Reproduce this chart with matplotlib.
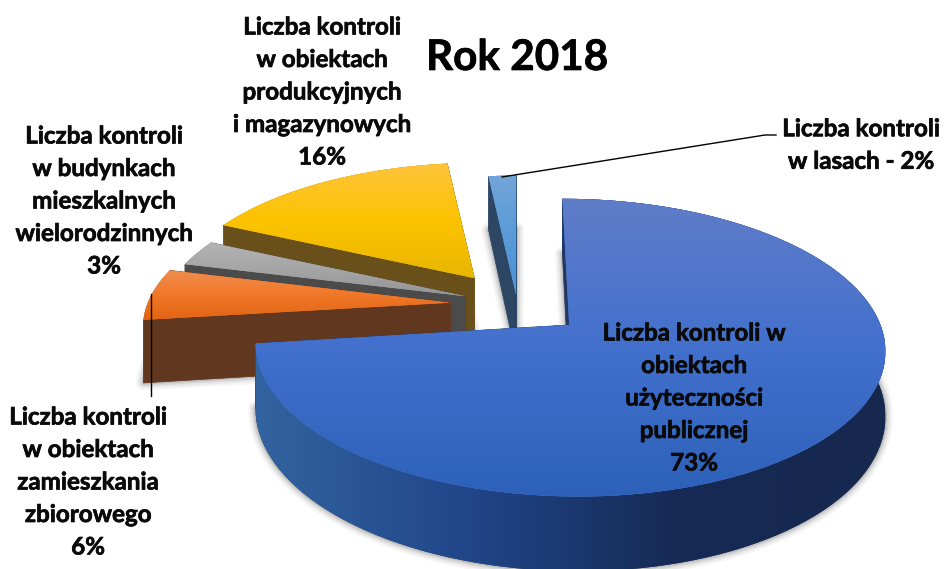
import matplotlib
matplotlib.use('Agg')
import matplotlib.pyplot as plt
import matplotlib.patheffects as pe
from matplotlib.patches import Polygon
from matplotlib.colors import LinearSegmentedColormap
import numpy as np

"""
Exploded 3D pie, Rok 2018
"""

title = 'Rok 2018'
shares = [73, 6, 3, 16, 2]
labels = [
    'Liczba kontroli w\nobiektach\nużyteczności\npublicznej\n73%',
    'Liczba kontroli\nw obiektach\nzamieszkania\nzbiorowego\n6%',
    'Liczba kontroli\nw budynkach\nmieszkalnych\nwielorodzinnych\n3%',
    'Liczba kontroli\nw obiektach\nprodukcyjnych\ni magazynowych\n16%',
    'Liczba kontroli\nw lasach - 2%',
]

# slice styling, same order as shares
explode = [0.215, 0.215, 0.178, 0.24, 0.07]
radius_u = [0.97, 0.965, 0.97, 0.975, 0.82]
radius_v = [0.995, 0.965, 0.97, 1.0, 1.0]
top_colors = [
    ['#5f7dc8', '#4270cd', '#2d61b9'],
    ['#f08c50', '#f07828', '#e16414'],
    ['#b4b4b4', '#a5a5a5', '#959595'],
    ['#ffc33c', '#fdc300', '#e8b600'],
    ['#73a5d7', '#5a9ad8', '#4a94d6'],
]
wall_colors = ['#233763', '#623720', '#4b4b4b', '#69501a', '#2d4664']
main_wall_colors = ['#32649f', '#21468a', '#162a55', '#16284e']
label_pos = [(694, 398), (88, 482), (104, 201), (322, 92), (861, 145)]
draw_order = [4, 3, 2, 1, 0]

# projection of the pie plane onto the picture
X0, Y0, A, B, K, DEPTH = 517.5, 304.6, 314, 140, 0.15, 62


def project(u, v):
    w = 1 + K * v
    return X0 + A * u / w, Y0 - B * v / w, DEPTH / w


def slice_outline(t1, t2, ru, rv, off):
    ang = np.linspace(t1, t2, 120)
    return off[0] + ru * np.sin(ang), off[1] + rv * np.cos(ang)


def gradient(ax, patch, colors, horizontal=False):
    x0, y0, x1, y1 = patch.get_extents().transformed(ax.transData.inverted()).extents
    cmap = LinearSegmentedColormap.from_list('g', colors)
    grad = np.linspace(0, 1, 256).reshape(1, -1) if horizontal else np.linspace(0, 1, 256).reshape(-1, 1)
    lo_y, hi_y = min(y0, y1), max(y0, y1)
    im = ax.imshow(grad, cmap=cmap, extent=(x0, x1, hi_y, lo_y), aspect='auto',
                   zorder=patch.get_zorder(), interpolation='bilinear')
    im.set_clip_path(patch)


fig = plt.figure(figsize=(9.44, 5.69), dpi=100)
ax = fig.add_axes([0, 0, 1, 1])
ax.set_xlim(0, 944)
ax.set_ylim(569, 0)
ax.axis('off')

fractions = np.array(shares) / sum(shares)
ends = np.cumsum(fractions) * 2 * np.pi
starts = ends - fractions * 2 * np.pi

z = 1
for i in draw_order:
    mid = (starts[i] + ends[i]) / 2
    off = (explode[i] * np.sin(mid), explode[i] * np.cos(mid))
    us, vs = slice_outline(starts[i], ends[i], radius_u[i], radius_v[i], off)
    u = np.concatenate([[off[0]], us])
    v = np.concatenate([[off[1]], vs])
    x, y, d = project(u, v)
    pts = np.column_stack([x, y])
    low = np.column_stack([x, y + d])

    # soft shadow round the lower face
    for lw, a in [(11, 0.05), (8, 0.08), (5, 0.12), (2.5, 0.18)]:
        ax.add_patch(Polygon(low, closed=True, fc='#555555', ec='#555555', lw=lw, alpha=a,
                             joinstyle='round', zorder=z))
    z += 1

    # cut walls
    for k in (1, -1):
        quad = np.array([pts[0], pts[k], low[k], low[0]])
        ax.add_patch(Polygon(quad, closed=True, fc=wall_colors[i], ec=wall_colors[i], lw=0.5, zorder=z))
        z += 1

    # outer wall
    rim = np.concatenate([pts[1:], low[1:][::-1]])
    wall = Polygon(rim, closed=True, fc=wall_colors[i], ec='none', zorder=z)
    ax.add_patch(wall)
    if i == 0:
        gradient(ax, wall, main_wall_colors, horizontal=True)
    z += 1

    # top face
    face = Polygon(pts, closed=True, fc=top_colors[i][1], ec='none', zorder=z)
    ax.add_patch(face)
    gradient(ax, face, top_colors[i])
    z += 1

ax.set_xlim(0, 944)
ax.set_ylim(569, 0)

# leader lines
ax.plot([502, 765, 776], [177, 135, 135], color='black', lw=1, zorder=z)
ax.plot([151, 151], [294, 396], color='black', lw=1, zorder=z)

bold = [pe.withStroke(linewidth=0.5, foreground='#0a0a0a')]
for txt, (px, py) in zip(labels, label_pos):
    ax.text(px, py, txt, ha='center', va='center', family='Lato', weight='bold',
            fontsize=17.4, linespacing=1.5, color='#0a0a0a', zorder=z + 1, path_effects=bold)
ax.text(517, 58, title, ha='center', va='center', family='Lato', weight='bold',
        fontsize=30.4, color='black', zorder=z + 1, path_effects=bold)

fig.savefig('out.png', dpi=100)
